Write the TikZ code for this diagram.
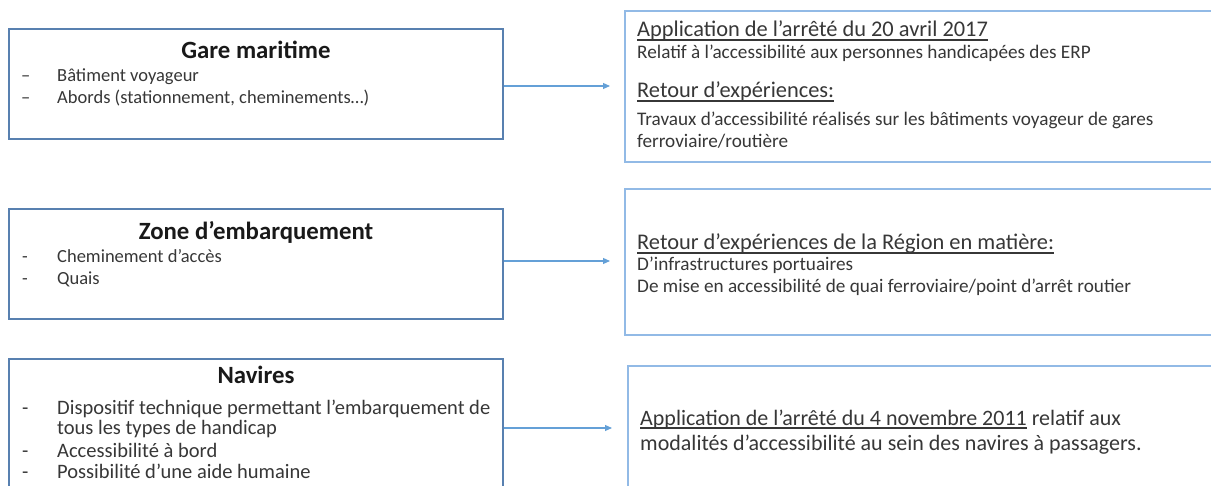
\documentclass[tikz,border=0pt]{standalone}
\usepackage{fontspec}
\setmainfont{Carlito}
\usetikzlibrary{arrows.meta}
\definecolor{leftblue}{RGB}{88,128,176}
\definecolor{rightblue}{RGB}{146,186,230}
\definecolor{arrblue}{RGB}{100,160,215}
\definecolor{txt}{RGB}{55,55,55}
\definecolor{head}{RGB}{25,25,25}
\begin{document}
\begin{tikzpicture}[x=1pt,y=-1pt,
  lbox/.style={draw=leftblue,line width=1.3pt,inner sep=0pt,minimum width=494pt},
  rbox/.style={draw=rightblue,line width=1.3pt,inner sep=0pt},
  ttl/.style={anchor=base,inner sep=0pt,text=head,font=\fontsize{24.8}{29}\selectfont\bfseries},
  itm/.style={anchor=base west,inner sep=0pt,text=txt,font=\fontsize{18.5}{22}\selectfont},
  itmb/.style={anchor=base west,inner sep=0pt,text=txt,font=\fontsize{20.5}{24}\selectfont},
  rhd/.style={anchor=base west,inner sep=0pt,text=txt,font=\fontsize{22.4}{26}\selectfont},
  rtx/.style={anchor=base west,inner sep=0pt,text=txt,font=\fontsize{19.2}{23}\selectfont},
  rbig/.style={anchor=base west,inner sep=0pt,text=txt,font=\fontsize{22}{26}\selectfont},
  uline/.style={draw=txt,line width=1.1pt},
  arr/.style={draw=arrblue,line width=1.1pt,-{Triangle[length=7pt,width=6pt]}}]
\useasboundingbox (0,0) rectangle (1211,486);
\fill[white] (0,0) rectangle (1211,486);
\clip (0,0) rectangle (1211,486);

% left boxes
\node[lbox,minimum height=110pt] (b1) at (256,84) {};
\node[lbox,minimum height=110pt] (b2) at (256,264) {};
\node[lbox,minimum height=140pt] (b3) at (256,429) {};

% right boxes
\node[rbox,minimum width=595pt,minimum height=151pt] (r1) at (922.5,86.5) {};
\node[rbox,minimum width=595pt,minimum height=146pt] (r2) at (922.5,262) {};
\node[rbox,minimum width=592pt,minimum height=134pt] (r3) at (924,433) {};

% arrow tips
\coordinate (t1) at (610,86);
\coordinate (t2) at (610,261);
\coordinate (t3) at (612,428);
\draw[arr] (b1.east |- t1) -- (t1);
\draw[arr] (b2.east |- t2) -- (t2);
\draw[arr] (b3.east |- t3) -- (t3);

% box 1 text
\node[ttl] (h1) at (256,59) {Gare maritime};
\node[itm] (d11) at (21,82) {–};
\node[itm] (i11) at (57,82) {Bâtiment voyageur};
\node[itm] (d12) at (21,104) {–};
\node[itm] (i12) at (57,104) {Abords (stationnement, cheminements…)};

% box 2 text
\node[ttl] (h2) at (256,240) {Zone d’embarquement};
\node[itm] (d21) at (22,263) {-};
\node[itm] (i21) at (57,263) {Cheminement d’accès};
\node[itm] (d22) at (22,285) {-};
\node[itm] (i22) at (57,285) {Quais};

% box 3 text
\node[ttl] (h3) at (256,384) {Navires};
\node[itmb] (d31) at (22,414) {-};
\node[itmb] (i31) at (57,414) {Dispositif technique permettant l’embarquement de};
\node[itmb] (i31b) at (57,435) {tous les types de handicap};
\node[itmb] (d32) at (22,457) {-};
\node[itmb] (i32) at (57,457) {Accessibilité à bord};
\node[itmb] (d33) at (22,478) {-};
\node[itmb] (i33) at (57,478) {Possibilité d’une aide humaine};

% right box 1 text
\node[rhd] (a1) at (637,37) {Application de l’arrêté du 20 avril 2017};
\draw[uline] ([yshift=-3pt]a1.base west) -- ([yshift=-3pt]a1.base east);
\node[rtx] (a2) at (637,59) {Relatif à l’accessibilité aux personnes handicapées des ERP};
\node[rhd] (a3) at (637,98) {Retour d’expériences:};
\draw[uline] ([yshift=-3pt]a3.base west) -- ([yshift=-3pt]a3.base east);
\node[rtx] (a4) at (637,126) {Travaux d’accessibilité réalisés sur les bâtiments voyageur de gares};
\node[rtx] (a5) at (637,148) {ferroviaire/routière};

% right box 2 text
\node[rhd] (c1) at (637,250) {Retour d’expériences de la Région en matière:};
\draw[uline] ([yshift=-3pt]c1.base west) -- ([yshift=-3pt]c1.base east);
\node[rtx] (c2) at (637,271) {D’infrastructures portuaires};
\node[rtx] (c3) at (637,293) {De mise en accessibilité de quai ferroviaire/point d’arrêt routier};

% right box 3 text
\node[rbig] (e1) at (640,425) {Application de l’arrêté du 4 novembre 2011};
\draw[uline] ([yshift=-3pt]e1.base west) -- ([yshift=-3pt]e1.base east);
\node[rbig,anchor=base west] (e1b) at ([xshift=4.5pt]e1.base east) {relatif aux};
\node[rbig] (e2) at (640,450) {modalités d’accessibilité au sein des navires à passagers.};
\end{tikzpicture}
\end{document}
